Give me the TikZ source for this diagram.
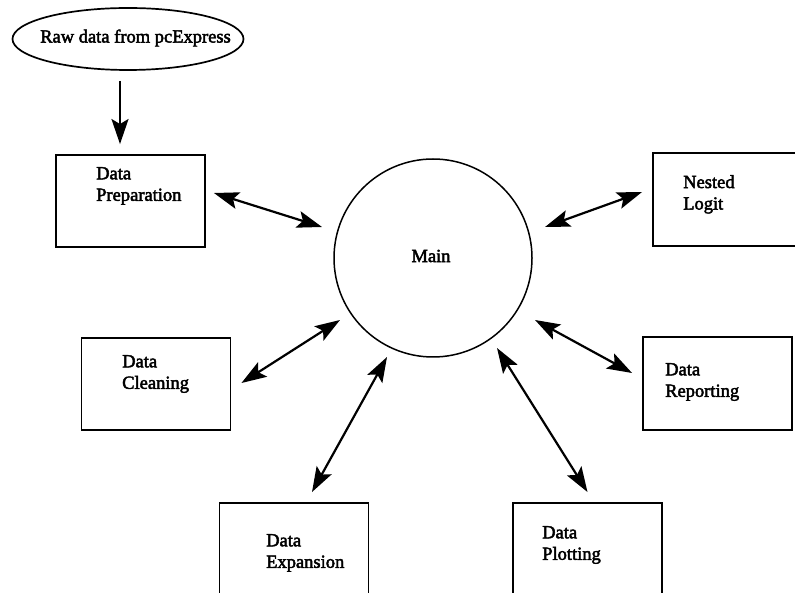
\documentclass[tikz,border=0pt]{standalone}
\usepackage{fontspec}
\setmainfont{Liberation Serif}[FakeBold=2.5]
\usetikzlibrary{shapes.geometric,arrows.meta,calc}
\begin{document}
\begin{tikzpicture}[x=1pt,y=-1pt,
  boxnode/.style={draw,line width=1.9pt,rectangle,minimum width=149pt,minimum height=92pt,inner sep=0pt},
  txt/.style={anchor=north west,inner sep=0pt,align=left,font=\fontsize{18.5}{21.5}\selectfont},
  dbl/.style={line width=2.2pt,{Stealth[length=25pt,width=17pt,inset=5pt]}-{Stealth[length=25pt,width=17pt,inset=5pt]}},
  sgl/.style={line width=2.2pt,-{Stealth[length=25pt,width=17pt,inset=5pt]}}]
\useasboundingbox (0,0) rectangle (795,593);
\clip (0,0) rectangle (795,593);
\fill[white] (0,0) rectangle (795,593);
% nodes
\node[draw,ellipse,line width=1.7pt,minimum width=231pt,minimum height=62pt,inner sep=0pt] (raw) at (128,39) {};
\node[font=\fontsize{18.5}{21.5}\selectfont,inner sep=0pt] (rawtxt) at (135.5,38) {Raw data from pcExpress};
\node[draw,circle,line width=1.5pt,minimum size=198pt,inner sep=0pt] (main) at (433,258) {};
\node[font=\fontsize{18.5}{21.5}\selectfont,inner sep=0pt] (maintxt) at (431,256) {Main};
\node[boxnode] (prep) at (130.5,201) {};
\node[txt] (preptxt) at (96,167) {Data\\Preparation};
\node[boxnode] (clean) at (156,384) {};
\node[txt] (cleantxt) at (122,355) {Data\\Cleaning};
\node[boxnode] (exp) at (294,549) {};
\node[txt] (exptxt) at (266,534) {Data\\Expansion};
\node[boxnode] (plot) at (587.5,549) {};
\node[txt] (plottxt) at (542,526) {Data\\Plotting};
\node[boxnode,minimum height=93pt] (nested) at (727.5,199.5) {};
\node[txt] (nestedtxt) at (683,175) {Nested\\Logit};
\node[boxnode,minimum height=93pt] (report) at (717.5,383.5) {};
\node[txt] (reporttxt) at (665,363) {Data\\Reporting};
% connectors
\draw[sgl] ($(raw.south)+(-8,10)$) -- ($(prep.north)+(-10.5,-10)$);
\draw[dbl] ($(prep.east)+(8,-8)$) -- ($(main.center)+(-111,-31)$);
\draw[dbl] ($(nested.west)+(-10,-7.5)$) -- ($(main.center)+(112,-31)$);
\draw[dbl] ($(clean.east)+(10,-1)$) -- ($(main.center)+(-93,62)$);
\draw[dbl] ($(report.west)+(-10,-10.5)$) -- ($(main.center)+(102,62)$);
\draw[dbl] ($(exp.north)+(18,-10)$) -- ($(main.center)+(-46,99)$);
\draw[dbl] ($(plot.north)+(0,-10)$) -- ($(main.center)+(64,90)$);
\end{tikzpicture}
\end{document}
